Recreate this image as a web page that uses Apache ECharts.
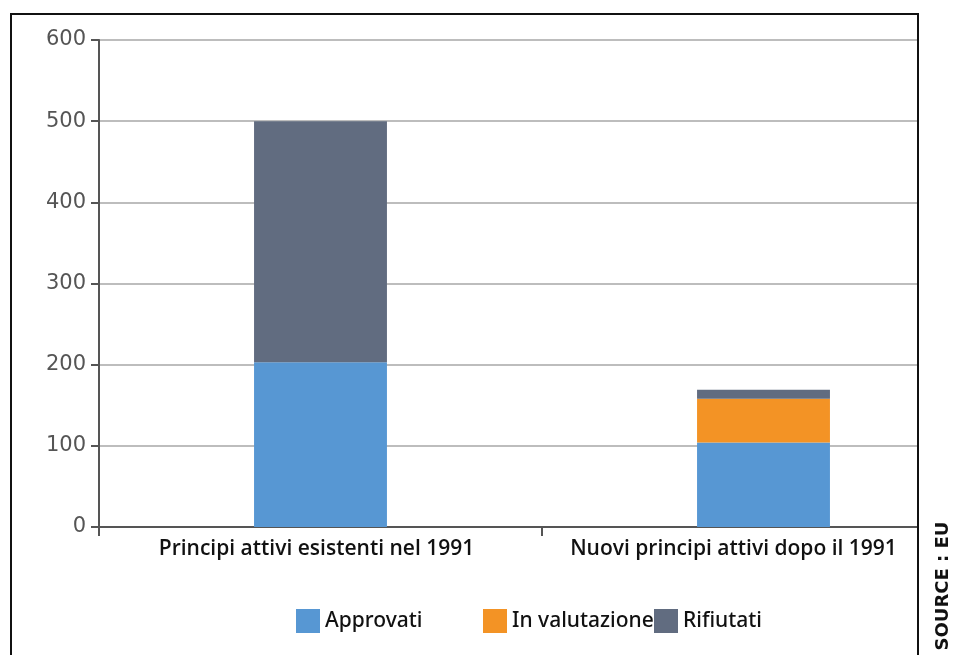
<!DOCTYPE html>
<html><head><meta charset="utf-8">
<script src="https://cdn.jsdelivr.net/npm/echarts@6/dist/echarts.min.js"></script>
<style>html,body{margin:0;padding:0;background:#fff}#c{width:954px;height:655px}</style>
</head><body><div id="c"></div>
<script>
var categories = ['Principi attivi esistenti nel 1991', 'Nuovi principi attivi dopo il 1991'];
var approvati = [203, 104];
var inValutazione = [0, 54];
var rifiutati = [297, 11];
var yTicks = [0, 100, 200, 300, 400, 500, 600];
var seriesNames = ['Approvati', 'In valutazione', 'Rifiutati'];
var colors = ['#5797d3', '#f39325', '#616c80'];

var chart = echarts.init(document.getElementById('c'));
var legendPos = [296, 483, 654];
var labelFont = { color: '#111', fontFamily: 'Open Sans', fontWeight: 600, fontSize: 21 };
chart.setOption({
  animation: false,
  grid: { left: 99, width: 886, top: 40, height: 487, containLabel: false, outerBoundsMode: 'none' },
  xAxis: {
    type: 'category', data: categories,
    axisLine: { lineStyle: { color: '#555', width: 2 } },
    axisTick: { show: true, interval: 0, length: 9, lineStyle: { color: '#555', width: 2 } },
    axisLabel: {
      interval: 0, hideOverlap: false,
      color: '#111', fontFamily: 'Open Sans', fontWeight: 600, fontSize: 21, margin: 12,
      formatter: function (v, i) { return i === 1 ? '{b|' + v + '}' : '{a|' + v + '}'; },
      rich: {
        a: Object.assign({ padding: [0, 8, 0, 0] }, labelFont),
        b: Object.assign({ padding: [0, 60, 0, 0] }, labelFont)
      }
    },
    splitLine: { show: false }
  },
  yAxis: {
    type: 'value', min: yTicks[0], max: yTicks[yTicks.length - 1], interval: 100,
    axisLine: { show: true, lineStyle: { color: '#555', width: 2 } },
    axisTick: { show: true, length: 8, lineStyle: { color: '#555', width: 2 } },
    axisLabel: { color: '#555', fontFamily: 'DejaVu Sans', fontWeight: 500, fontSize: 21, margin: 13 },
    splitLine: { lineStyle: { color: '#bdbdbd', width: 2 } }
  },
  legend: seriesNames.map(function (n, i) {
    return { data: [n], left: legendPos[i], top: 609, padding: 0, itemWidth: 24, itemHeight: 24, icon: 'rect',
      textStyle: { color: '#111', fontFamily: 'Noto Sans', fontWeight: 500, fontSize: 21, padding: [3, 0, 0, 0] } };
  }),
  series: [
    { name: seriesNames[0], type: 'bar', stack: 's', data: approvati, barWidth: '30%', itemStyle: { color: colors[0] } },
    { name: seriesNames[1], type: 'bar', stack: 's', data: inValutazione, barWidth: '30%', itemStyle: { color: colors[1] } },
    { name: seriesNames[2], type: 'bar', stack: 's', data: rifiutati, barWidth: '30%', itemStyle: { color: colors[2] } }
  ],
  graphic: [
    { type: 'rect', z: 100, shape: { x: 919, y: 0, width: 40, height: 655 }, style: { fill: '#fff' } },
    { type: 'rect', z: 101, shape: { x: 11, y: 14, width: 907, height: 700 }, style: { fill: 'none', stroke: '#111', lineWidth: 2 } },
    { type: 'text', z: 102, x: 943, y: 586, rotation: Math.PI / 2,
      style: { text: 'SOURCE : EU', fill: '#111', font: 'bold 18px "DejaVu Sans"', align: 'center', verticalAlign: 'middle' } }
  ]
});
</script></body></html>
